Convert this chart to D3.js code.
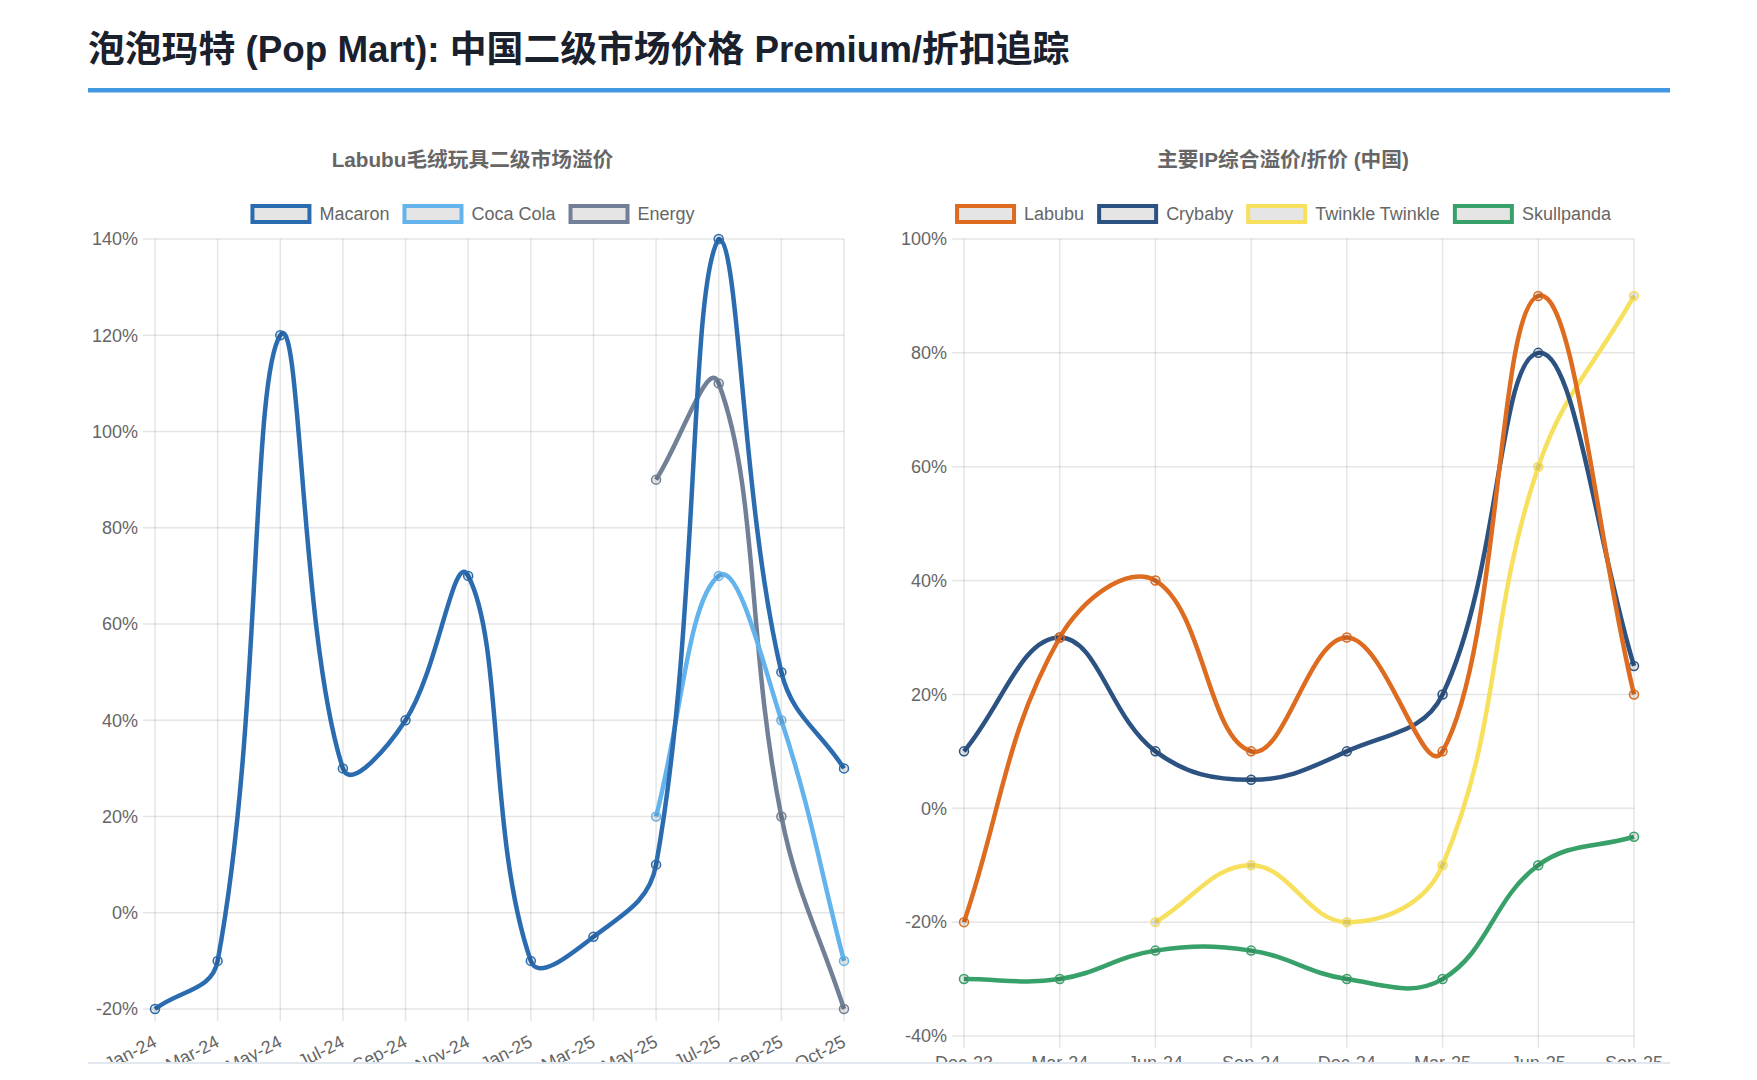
<!DOCTYPE html>
<html>
  <head>
    <meta charset="utf-8">
    <title>泡泡玛特 (Pop Mart) 二级市场价格追踪</title>
    <script src="https://cdn.jsdelivr.net/npm/d3@7/dist/d3.min.js"></script>
    <style>
      html, body { margin: 0; padding: 0; background: #fff; }
      svg { display: block; }
      .tick-label { font-family: "Helvetica Neue", Helvetica, "Liberation Sans", Arial, sans-serif; font-size: 18px; fill: #666; }
      .chart-title { font-family: "Helvetica Neue", Helvetica, "Liberation Sans", "Noto Sans CJK SC", sans-serif; font-size: 20.7px; font-weight: bold; fill: #666; }
      .page-title { font-family: "Helvetica Neue", Helvetica, "Liberation Sans", "Noto Sans CJK SC", sans-serif; font-size: 36.8px; font-weight: bold; fill: #1a202c; }
    </style>
  </head>
  <body>
    <svg id="page" width="1757" height="1080"></svg>
    <script>

      // Left chart: Labubu plush premium by series
      var leftLabels = ["Jan-24", "Mar-24", "May-24", "Jul-24", "Sep-24", "Nov-24",
                        "Jan-25", "Mar-25", "May-25", "Jul-25", "Sep-25", "Oct-25"];
      var macaron  = [-20, -10, 120, 30, 40, 70, -10, -5, 10, 140, 50, 30];
      var cocaCola = [null, null, null, null, null, null, null, null, 20, 70, 40, -10];
      var energy   = [null, null, null, null, null, null, null, null, 90, 110, 20, -20];
      var leftTicks = [-20, 0, 20, 40, 60, 80, 100, 120, 140];

      // Right chart: main IPs premium / discount
      var rightLabels = ["Dec-23", "Mar-24", "Jun-24", "Sep-24", "Dec-24", "Mar-25", "Jun-25", "Sep-25"];
      var labubu     = [-20, 30, 40, 10, 30, 10, 90, 20];
      var crybaby    = [10, 30, 10, 5, 10, 20, 80, 25];
      var twinkle    = [null, null, -20, -10, -20, -10, 60, 90];
      var skullpanda = [-30, -30, -25, -25, -30, -30, -10, -5];
      var rightTicks = [-40, -20, 0, 20, 40, 60, 80, 100];

      var svg = d3.select("#page");

      // Page title and blue rule under it
      svg.append("text")
        .attr("class", "page-title")
        .attr("x", 88)
        .attr("y", 62)
        .text("泡泡玛特 (Pop Mart): 中国二级市场价格 Premium/折扣追踪");
      svg.append("rect")
        .attr("x", 88).attr("y", 88)
        .attr("width", 1582).attr("height", 4.5)
        .attr("fill", "#4299e1");

      // everything below the visible panel edge is cut off
      svg.append("clipPath").attr("id", "panelClip")
        .append("rect").attr("x", 0).attr("y", 0).attr("width", 1757).attr("height", 1062);

      // Spline like the one Chart.js draws (tension 0.4, control points capped to the plot area)
      function splineCurve(area) {
        return function(context) {
          var pts = [];
          return {
            areaStart: function() {},
            areaEnd: function() {},
            lineStart: function() { pts = []; },
            point: function(x, y) { pts.push([+x, +y]); },
            lineEnd: function() {
              var n = pts.length, t = 0.4;
              if (!n) return;
              var cps = pts.map(function(cur, i) {
                var prev = pts[i - 1] || cur, next = pts[i + 1] || cur;
                var d01 = Math.hypot(cur[0] - prev[0], cur[1] - prev[1]);
                var d12 = Math.hypot(next[0] - cur[0], next[1] - cur[1]);
                var s01 = d01 / (d01 + d12), s12 = d12 / (d01 + d12);
                if (isNaN(s01)) s01 = 0;
                if (isNaN(s12)) s12 = 0;
                var fa = t * s01, fb = t * s12;
                var cap = function(p) {
                  return [Math.max(area.x0, Math.min(area.x1, p[0])), Math.max(area.y0, Math.min(area.y1, p[1]))];
                };
                return {
                  a: cap([cur[0] - fa * (next[0] - prev[0]), cur[1] - fa * (next[1] - prev[1])]),
                  b: cap([cur[0] + fb * (next[0] - prev[0]), cur[1] + fb * (next[1] - prev[1])])
                };
              });
              context.moveTo(pts[0][0], pts[0][1]);
              for (var i = 1; i < n; i++) {
                context.bezierCurveTo(cps[i - 1].b[0], cps[i - 1].b[1], cps[i].a[0], cps[i].a[1], pts[i][0], pts[i][1]);
              }
            }
          };
        };
      }

      function drawChart(cfg) {
        var g = svg.append("g").attr("clip-path", "url(#panelClip)");

        var x = d3.scalePoint().domain(cfg.labels).range([cfg.x0, cfg.x1]).padding(0);
        var y = d3.scaleLinear().domain(cfg.domain).range([cfg.y1, cfg.y0]);
        var grid = "rgba(0,0,0,0.1)";

        // title
        g.append("text")
          .attr("class", "chart-title")
          .attr("x", cfg.cx)
          .attr("y", 167)
          .attr("text-anchor", "middle")
          .text(cfg.title);

        // legend: measure first, then center
        var legend = g.append("g");
        var items = legend.selectAll("g.item")
          .data(cfg.series)
          .enter()
          .append("g")
          .attr("class", "item");
        items.append("rect")
          .attr("x", 2).attr("y", -8)
          .attr("width", 57).attr("height", 16)
          .attr("fill", "rgba(0,0,0,0.1)")
          .attr("stroke", function(d) { return d.color; })
          .attr("stroke-width", 4);
        items.append("text")
          .attr("class", "tick-label")
          .attr("x", 69)
          .attr("dy", "0.35em")
          .text(function(d) { return d.name; });
        var offset = 0;
        items.each(function() {
          var w = 69 + d3.select(this).select("text").node().getComputedTextLength();
          d3.select(this).attr("transform", "translate(" + offset + ",0)");
          offset += w + 13;
        });
        var total = offset - 13;
        legend.attr("transform", "translate(" + (cfg.cx - total / 2) + ",214)");

        // horizontal grid + y labels
        g.append("g").selectAll("line")
          .data(cfg.ticks)
          .enter()
          .append("line")
          .attr("x1", cfg.x0 - 12).attr("x2", cfg.x1)
          .attr("y1", function(d) { return y(d); })
          .attr("y2", function(d) { return y(d); })
          .attr("stroke", grid).attr("stroke-width", 1.5);
        g.append("g").selectAll("text")
          .data(cfg.ticks)
          .enter()
          .append("text")
          .attr("class", "tick-label")
          .attr("x", cfg.x0 - 17)
          .attr("y", function(d) { return y(d); })
          .attr("dy", "0.35em")
          .attr("text-anchor", "end")
          .text(function(d) { return d + "%"; });

        // vertical grid + x labels
        g.append("g").selectAll("line")
          .data(cfg.labels)
          .enter()
          .append("line")
          .attr("x1", function(d) { return x(d); })
          .attr("x2", function(d) { return x(d); })
          .attr("y1", cfg.y0).attr("y2", cfg.y1 + 12)
          .attr("stroke", grid).attr("stroke-width", 1.5);
        var xl = g.append("g").selectAll("text")
          .data(cfg.labels)
          .enter()
          .append("text")
          .attr("class", "tick-label")
          .text(function(d) { return d; });
        if (cfg.rotate) {
          xl.attr("text-anchor", "end")
            .attr("dy", "0.35em")
            .attr("transform", function(d) {
              return "translate(" + x(d) + "," + (cfg.y1 + 31) + ") rotate(" + cfg.rotate + ")";
            });
        } else {
          xl.attr("text-anchor", "middle")
            .attr("x", function(d) { return x(d); })
            .attr("y", cfg.y1 + 33);
        }

        // lines and points, last dataset underneath
        var area = { x0: cfg.x0, x1: cfg.x1, y0: cfg.y0, y1: cfg.y1 };
        var line = d3.line()
          .defined(function(d) { return d.v !== null; })
          .x(function(d) { return x(d.label); })
          .y(function(d) { return y(d.v); })
          .curve(splineCurve(area));

        cfg.series.slice().reverse().forEach(function(s) {
          var pts = s.values.map(function(v, i) { return { label: cfg.labels[i], v: v }; });
          g.append("path")
            .datum(pts)
            .attr("d", line)
            .attr("fill", "none")
            .attr("stroke", s.color)
            .attr("stroke-width", 4.5)
            .attr("stroke-linejoin", "round");
          g.append("g").selectAll("circle")
            .data(pts.filter(function(d) { return d.v !== null; }))
            .enter()
            .append("circle")
            .attr("cx", function(d) { return x(d.label); })
            .attr("cy", function(d) { return y(d.v); })
            .attr("r", 4.5)
            .attr("fill", "rgba(0,0,0,0.1)")
            .attr("stroke", s.color)
            .attr("stroke-width", 1.5);
        });
      }

      drawChart({
        title: "Labubu毛绒玩具二级市场溢价",
        cx: 472.5,
        x0: 155, x1: 844, y0: 239, y1: 1009,
        labels: leftLabels,
        domain: [-20, 140],
        ticks: leftTicks,
        rotate: -27,
        series: [
          { name: "Macaron", values: macaron, color: "#2b6cb0" },
          { name: "Coca Cola", values: cocaCola, color: "#63b3ed" },
          { name: "Energy", values: energy, color: "#718096" }
        ]
      });

      drawChart({
        title: "主要IP综合溢价/折价 (中国)",
        cx: 1283,
        x0: 964, x1: 1634, y0: 239, y1: 1036,
        labels: rightLabels,
        domain: [-40, 100],
        ticks: rightTicks,
        rotate: 0,
        series: [
          { name: "Labubu", values: labubu, color: "#dd6b20" },
          { name: "Crybaby", values: crybaby, color: "#2c5282" },
          { name: "Twinkle Twinkle", values: twinkle, color: "#f6e05e" },
          { name: "Skullpanda", values: skullpanda, color: "#38a169" }
        ]
      });

      // thin edge of the panel at the bottom
      svg.append("rect")
        .attr("x", 88).attr("y", 1062)
        .attr("width", 1582).attr("height", 2)
        .attr("fill", "#e2e8f0");

    </script>
  </body>
</html>
